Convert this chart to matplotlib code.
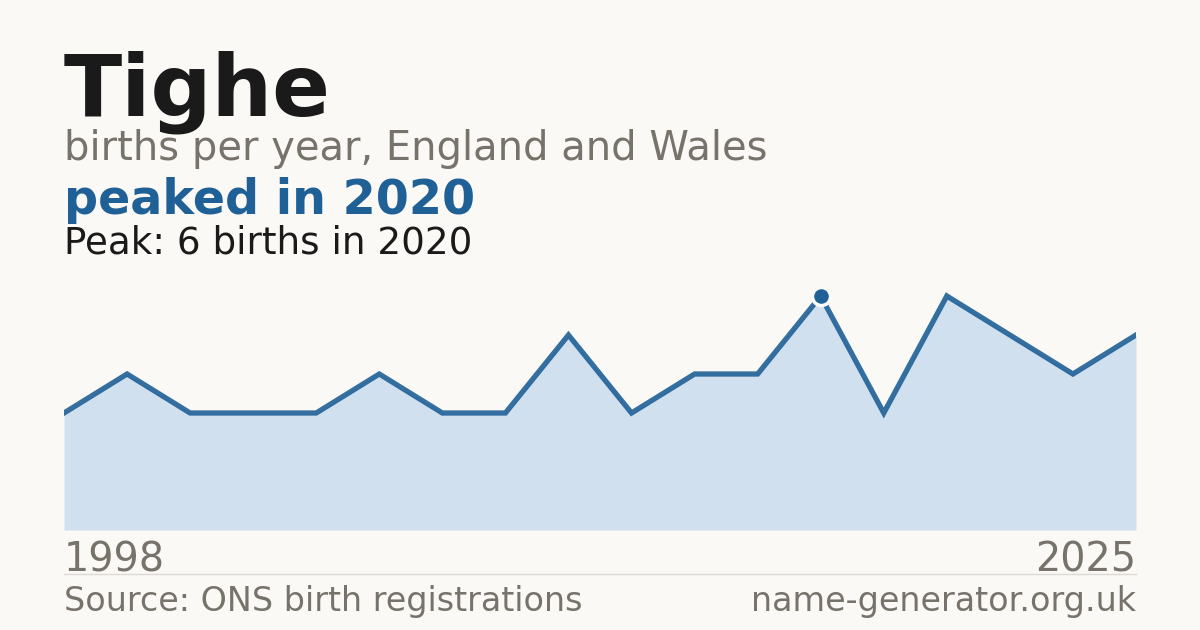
"""Births-per-year sparkline card for the name Tighe."""

from matplotlib import pyplot as plt

plt.rcParams["font.family"] = ["DejaVu Sans"]

# Data (years with no published count are absent).
years = [1998, 2000, 2003, 2004, 2006, 2008, 2010, 2011, 2013, 2015, 2017, 2019,
         2020, 2021, 2022, 2023, 2024, 2025]
births = [3, 4, 3, 3, 3, 4, 3, 3, 5, 3, 4, 4, 6, 3, 6, 5, 4, 5]
peakYear = 2020

# Colours.
background = "#faf9f5"
ink = "#1a1a1a"
grey = "#77736b"
blue = "#1f6096"
fillBlue = "#d0e0ef"

fig = plt.figure(figsize=(12, 6.3), dpi=100, facecolor=background)

# Plot area in figure pixels: x 64..1136, y 270..530 (from top).
W, H = 1200, 630
ax = fig.add_axes([64 / W, (H - 530) / H, (1136 - 64) / W, (530 - 270) / H])
ax.set_facecolor(background)

xs = list(range(len(years)))
ax.fill_between(xs, births, 0, color=fillBlue, linewidth=0)
ax.plot(xs, births, color=blue, linewidth=3.8, solid_joinstyle="miter", alpha=0.9)
peakIndex = years.index(peakYear)
ax.plot(xs[peakIndex], births[peakIndex], "o", markersize=13, color=blue,
        markeredgecolor=background, markeredgewidth=2.5, zorder=5)

ax.set_xlim(0, len(years) - 1)
ax.set_ylim(0, max(births) * 260 / 234)
ax.axis("off")

# Header text.
fig.text(64 / W, 1 - 115 / H, "Tighe", fontsize=61.5, fontweight="bold", color=ink)
fig.text(64 / W, 1 - 160 / H, "births per year, England and Wales", fontsize=28.8, color=grey)
fig.text(64 / W, 1 - 214 / H, "peaked in {0:d}".format(peakYear), fontsize=34.3,
         fontweight="bold", color=blue)
fig.text(64 / W, 1 - 254 / H, "Peak: {0:d} births in {1:d}".format(max(births), peakYear),
         fontsize=26.8, color=ink)

# Axis end labels.
fig.text(64 / W, 1 - 571 / H, str(years[0]), fontsize=28.6, color=grey)
fig.text(1136 / W, 1 - 571 / H, str(years[-1]), fontsize=28.6, color=grey, ha="right")

# Separator and footer.
fig.add_artist(plt.Line2D([64 / W, 1136 / W], [1 - 574 / H, 1 - 574 / H],
                          color="#dddad3", linewidth=1))
fig.text(64 / W, 1 - 611 / H, "Source: ONS birth registrations", fontsize=24, color=grey)
fig.text(1136 / W, 1 - 611 / H, "name-generator.org.uk", fontsize=24, color=grey, ha="right")

fig.savefig("out.png", dpi=100, facecolor=background)
